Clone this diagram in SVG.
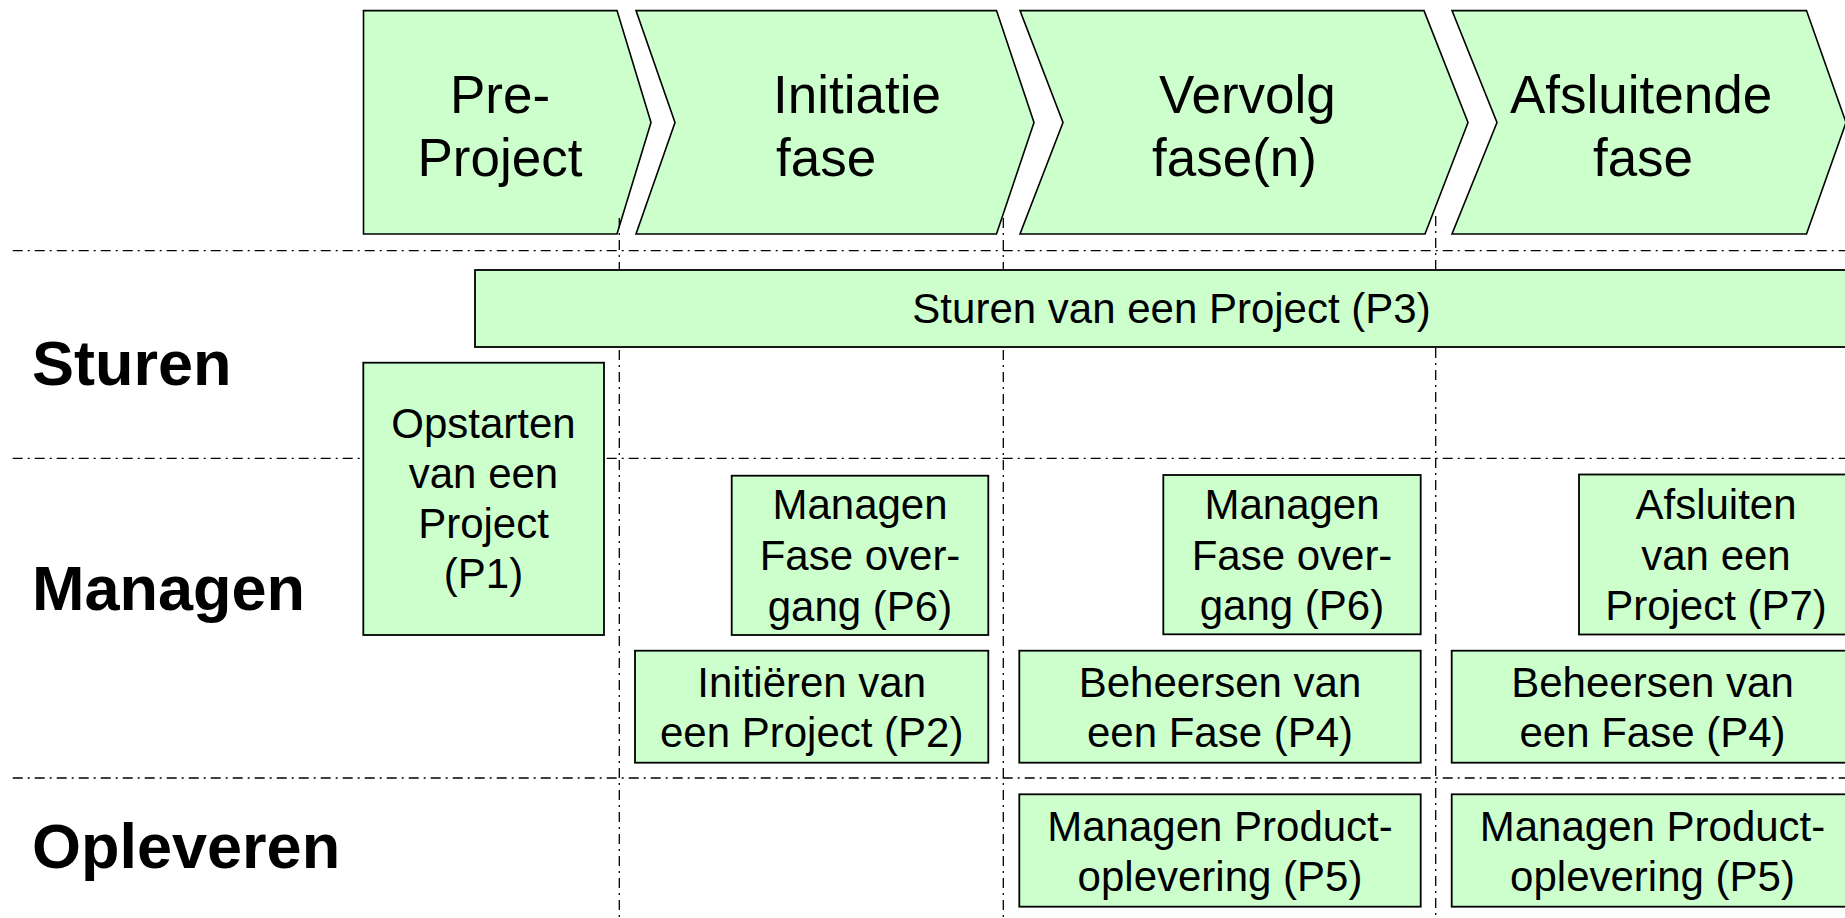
<svg xmlns="http://www.w3.org/2000/svg" width="1845" height="918" viewBox="0 0 1845 918">
<style>
  .bg { fill: #ffffff; }
  .chev { fill: #ccffcc; stroke: #000000; stroke-width: 1.6; stroke-linejoin: miter; }
  .box { fill: #ccffcc; stroke: #000000; stroke-width: 1.8; }
  .grid { stroke: #000000; stroke-width: 1.3; stroke-dasharray: 10 5 2 5; fill: none; }
  .ct { font-family: "Liberation Sans", Arial, sans-serif; font-size: 53px; fill: #000000; }
  .bt { font-family: "Liberation Sans", Arial, sans-serif; font-size: 42px; fill: #000000; text-anchor: middle; }
  .lane { font-family: "Liberation Sans", Arial, sans-serif; font-size: 63px; font-weight: bold; fill: #000000; }
</style>
<rect class="bg" x="0" y="0" width="1845" height="918"/>

<g id="phase-pre-project">
  <polygon class="chev" points="363.5,10.6 617,10.6 651,122.5 617,234 363.5,234"/>
  <text class="ct" x="500" y="113" text-anchor="middle">Pre-</text>
  <text class="ct" x="500" y="176" text-anchor="middle">Project</text>
</g>
<g id="phase-initiatie">
  <polygon class="chev" points="636,10.6 996.5,10.6 1034,122.5 996.5,234 636,234 675,122.5"/>
  <text class="ct" x="773" y="113">Initiatie</text>
  <text class="ct" x="776" y="176">fase</text>
</g>
<g id="phase-vervolg">
  <polygon class="chev" points="1020,10.6 1424,10.6 1468,122.5 1425,234 1020,234 1063,122.5"/>
  <text class="ct" x="1159" y="113">Vervolg</text>
  <text class="ct" x="1152" y="176">fase(n)</text>
</g>
<g id="phase-afsluitende">
  <polygon class="chev" points="1452,10.6 1806.5,10.6 1846,122.5 1806.5,234 1452,234 1497,122.5"/>
  <text class="ct" x="1641" y="113" text-anchor="middle">Afsluitende</text>
  <text class="ct" x="1643" y="176" text-anchor="middle">fase</text>
</g>

<g id="connectors">
  <line class="grid" x1="12.7" y1="250.7" x2="1845" y2="250.7"/>
  <line class="grid" x1="12.7" y1="458.3" x2="1845" y2="458.3"/>
  <line class="grid" x1="12.7" y1="778" x2="1845" y2="778"/>
  <line class="grid" x1="619.3" y1="218" x2="619.3" y2="918"/>
  <line class="grid" x1="1003.3" y1="218" x2="1003.3" y2="918"/>
  <line class="grid" x1="1435.7" y1="216" x2="1435.7" y2="918"/>
</g>

<g id="lane-sturen">
  <text class="lane" x="32" y="385">Sturen</text>
</g>
<g id="lane-managen">
  <text class="lane" x="32" y="610">Managen</text>
</g>
<g id="lane-opleveren">
  <text class="lane" x="32" y="868">Opleveren</text>
</g>

<g id="p3">
  <rect class="box" x="475" y="270" width="1400" height="77"/>
  <text class="bt" x="1171.5" y="323">Sturen van een Project (P3)</text>
</g>

<g id="p1">
  <rect class="box" x="363.3" y="362.7" width="240.7" height="272.3"/>
  <text class="bt" x="483.5" y="438">Opstarten</text>
  <text class="bt" x="483.5" y="488">van een</text>
  <text class="bt" x="483.5" y="538">Project</text>
  <text class="bt" x="483.5" y="588">(P1)</text>
</g>

<g id="p6-initiatie">
  <rect class="box" x="731.7" y="475.7" width="256.6" height="159.3"/>
  <text class="bt" x="860" y="519">Managen</text>
  <text class="bt" x="860" y="570">Fase over-</text>
  <text class="bt" x="860" y="620.5">gang (P6)</text>
</g>

<g id="p2">
  <rect class="box" x="635" y="650.7" width="353.3" height="112"/>
  <text class="bt" x="811.7" y="697.3">Initiëren van</text>
  <text class="bt" x="811.7" y="747.3">een Project (P2)</text>
</g>

<g id="p6-vervolg">
  <rect class="box" x="1163.3" y="475" width="257.4" height="159.3"/>
  <text class="bt" x="1292" y="519">Managen</text>
  <text class="bt" x="1292" y="570">Fase over-</text>
  <text class="bt" x="1292" y="620">gang (P6)</text>
</g>

<g id="p4-vervolg">
  <rect class="box" x="1019.3" y="650.7" width="401.4" height="112"/>
  <text class="bt" x="1220" y="697.3">Beheersen van</text>
  <text class="bt" x="1220" y="747.3">een Fase (P4)</text>
</g>

<g id="p5-vervolg">
  <rect class="box" x="1019.3" y="794.3" width="401.4" height="112.4"/>
  <text class="bt" x="1220" y="840.7">Managen Product-</text>
  <text class="bt" x="1220" y="890.7">oplevering (P5)</text>
</g>

<g id="p7">
  <rect class="box" x="1579" y="474.5" width="274" height="160"/>
  <text class="bt" x="1716" y="519">Afsluiten</text>
  <text class="bt" x="1716" y="570">van een</text>
  <text class="bt" x="1716" y="620">Project (P7)</text>
</g>

<g id="p4-afsluitende">
  <rect class="box" x="1451.7" y="650.7" width="401.3" height="112"/>
  <text class="bt" x="1652.5" y="697.3">Beheersen van</text>
  <text class="bt" x="1652.5" y="747.3">een Fase (P4)</text>
</g>

<g id="p5-afsluitende">
  <rect class="box" x="1451.7" y="794.3" width="401.3" height="112.4"/>
  <text class="bt" x="1652.5" y="840.7">Managen Product-</text>
  <text class="bt" x="1652.5" y="890.7">oplevering (P5)</text>
</g>
</svg>
